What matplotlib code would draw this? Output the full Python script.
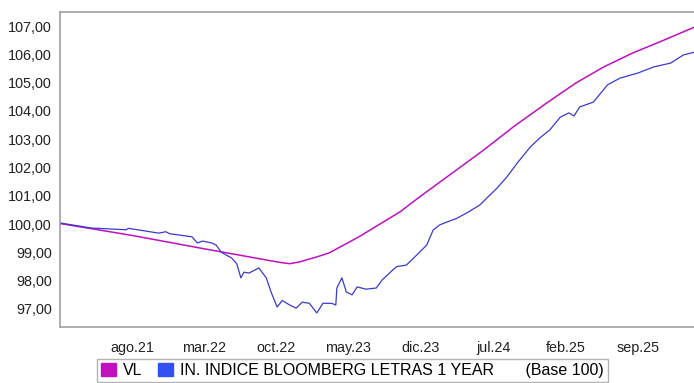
import numpy as np
import pandas as pd
import matplotlib
matplotlib.use("Agg")
import matplotlib.pyplot as plt
from matplotlib.patches import Patch
from matplotlib.ticker import FuncFormatter

plt.rcParams['font.family'] = ['Liberation Sans', 'DejaVu Sans']

# VL (fund)
vl_dates = ["2021-01-01", "2021-08-01", "2022-03-05", "2022-10-09", "2022-11-09",
            "2022-12-07", "2023-01-28", "2023-03-05", "2023-06-01", "2023-09-30",
            "2023-11-27", "2024-06-01", "2024-09-01", "2024-12-08", "2025-03-01",
            "2025-05-22", "2025-08-15", "2025-11-16", "2026-02-16"]
vl_values = [100.02, 99.60, 99.12, 98.65, 98.60,
             98.66, 98.84, 98.98, 99.55, 100.43,
             100.96, 102.60, 103.46, 104.30, 104.98,
             105.55, 106.04, 106.50, 106.97]

# benchmark index
idx_dates = ["2021-01-01", "2021-04-04", "2021-07-15", "2021-07-22", "2021-10-19",
             "2021-11-09", "2021-11-20", "2022-01-25", "2022-02-10", "2022-02-25",
             "2022-03-25", "2022-04-06", "2022-04-22", "2022-05-22", "2022-06-06",
             "2022-06-18", "2022-06-27", "2022-07-12", "2022-08-10", "2022-09-01",
             "2022-09-16", "2022-10-03", "2022-10-18", "2022-11-09", "2022-11-28",
             "2022-12-16", "2023-01-06", "2023-01-28", "2023-02-15", "2023-03-13",
             "2023-03-25", "2023-03-28", "2023-04-12", "2023-04-25", "2023-05-12",
             "2023-05-27", "2023-06-22", "2023-07-22", "2023-08-09", "2023-09-09",
             "2023-09-21", "2023-10-19", "2023-11-18", "2023-12-18", "2024-01-06",
             "2024-01-25", "2024-02-15", "2024-03-15", "2024-04-15", "2024-05-22",
             "2024-07-12", "2024-08-10", "2024-09-10", "2024-10-18", "2024-11-15",
             "2024-12-15", "2025-01-15", "2025-02-09", "2025-02-24", "2025-03-13",
             "2025-04-22", "2025-06-03", "2025-07-10", "2025-09-01", "2025-10-16",
             "2025-12-06", "2026-01-13", "2026-02-16"]
idx_values = [100.04, 99.86, 99.80, 99.85, 99.68,
              99.73, 99.66, 99.55, 99.33, 99.40,
              99.33, 99.26, 99.00, 98.80, 98.60,
              98.10, 98.30, 98.27, 98.45, 98.10,
              97.57, 97.07, 97.30, 97.14, 97.03,
              97.24, 97.20, 96.86, 97.20, 97.20,
              97.14, 97.74, 98.10, 97.60, 97.50,
              97.78, 97.70, 97.74, 98.03, 98.38,
              98.50, 98.55, 98.90, 99.26, 99.79,
              99.97, 100.07, 100.20, 100.40, 100.67,
              101.27, 101.66, 102.16, 102.72, 103.04,
              103.33, 103.78, 103.93, 103.82, 104.14,
              104.31, 104.92, 105.16, 105.34, 105.55,
              105.69, 105.98, 106.08]

tick_dates = ["2021-08-01", "2022-03-01", "2022-10-01", "2023-05-01",
              "2023-12-01", "2024-07-01", "2025-02-01", "2025-09-01"]
tick_labels = ["ago.21", "mar.22", "oct.22", "may.23", "dic.23", "jul.24", "feb.25", "sep.25"]

c_vl = "#c010c0"
c_idx = "#3a3ad0"
grey = "#a0a0a0"

fig = plt.figure(figsize=(6.94, 3.83), dpi=100)
ax = fig.add_axes([0.0865, 0.146, 0.915, 0.823])

ax.plot(pd.to_datetime(vl_dates), vl_values, color=c_vl, lw=1.1)
ax.plot(pd.to_datetime(idx_dates), idx_values, color=c_idx, lw=0.9)

ax.set_xlim(pd.Timestamp("2021-01-01"), pd.Timestamp("2026-02-16"))
ax.set_ylim(96.36, 107.5)
ax.set_yticks(np.arange(97, 108, 1))
ax.yaxis.set_major_formatter(FuncFormatter(lambda v, p: f"{v:.2f}".replace(".", ",")))
ax.set_xticks(pd.to_datetime(tick_dates))
ax.set_xticklabels(tick_labels)
ax.tick_params(length=0, labelsize=10.4, colors="#222222")
ax.tick_params(axis="x", pad=10)
ax.tick_params(axis="y", pad=6)

for s in ["left", "bottom", "top"]:
    ax.spines[s].set_color(grey)
    ax.spines[s].set_linewidth(1.2)
ax.spines["right"].set_visible(False)

handles = [Patch(color=c_vl), Patch(color="#3050f0")]
labels = ["VL", "IN. INDICE BLOOMBERG LETRAS 1 YEAR       (Base 100)"]
leg = fig.legend(handles, labels, ncol=2, loc="upper left",
                 bbox_to_anchor=(97 / 694, 1 - 359 / 383), borderaxespad=0,
                 frameon=True, fancybox=False, edgecolor=grey, fontsize=11.5,
                 handlelength=0.95, handleheight=0.9, handletextpad=0.45,
                 columnspacing=0.95, borderpad=0.25)
leg.get_frame().set_linewidth(1.0)

fig.savefig("out.png", dpi=100)
